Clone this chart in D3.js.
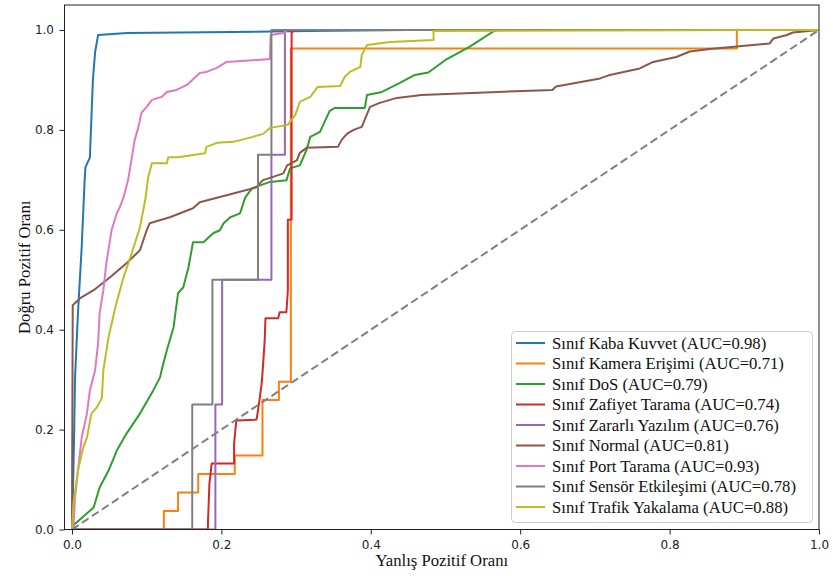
<!DOCTYPE html>
<meta charset="utf-8">
<head>
	<title>ROC</title>
</head>

<style>
	body { margin: 0; background: #fff; }
	.tick text { font-family: "DejaVu Sans", sans-serif; font-size: 12px; fill: #222; }
	.tick line { stroke: #222; }
	.domain { display: none; }
	.lbl { font-family: "Liberation Serif", "Times New Roman", serif; font-size: 16.7px; fill: #111; }
</style>

<body>
	<svg width="833" height="576"></svg>

	<script src="https://d3js.org/d3.v7.min.js"></script>
	<script>
// class names and auc scores
var classNames = ["Kaba Kuvvet", "Kamera Erişimi", "DoS", "Zafiyet Tarama", "Zararlı Yazılım",
	"Normal", "Port Tarama", "Sensör Etkileşimi", "Trafik Yakalama"];
var aucValues = [0.98, 0.71, 0.79, 0.74, 0.76, 0.81, 0.93, 0.78, 0.88];
var tickValues = [0, 0.2, 0.4, 0.6, 0.8, 1.0];

// roc points [fpr, tpr]
var rocKabaKuvvet = [[0,0],[0.001,0.05],[0.003,0.2],[0.004,0.3],[0.008,0.433],[0.013,0.565],[0.017,0.7],
	[0.018,0.725],[0.024,0.745],[0.028,0.9],[0.031,0.956],[0.035,0.99],[0.074,0.994],[0.214,0.996],
	[0.319,0.998],[0.45,1],[1,1]];
var rocKamera = [[0,0],[0.123,0],[0.123,0.037],[0.142,0.037],[0.142,0.074],[0.169,0.074],[0.169,0.111],
	[0.218,0.111],[0.218,0.148],[0.255,0.148],[0.255,0.259],[0.277,0.259],[0.277,0.296],[0.293,0.296],
	[0.293,0.963],[0.89,0.963],[0.89,1],[1,1]];
var rocDoS = [[0,0],[0.003,0.01],[0.029,0.044],[0.037,0.084],[0.049,0.118],[0.06,0.158],[0.073,0.192],
	[0.091,0.232],[0.109,0.279],[0.118,0.305],[0.12,0.319],[0.127,0.359],[0.136,0.405],[0.142,0.473],
	[0.149,0.485],[0.156,0.525],[0.162,0.575],[0.176,0.575],[0.189,0.593],[0.198,0.599],[0.203,0.613],
	[0.212,0.625],[0.225,0.633],[0.232,0.665],[0.241,0.683],[0.252,0.689],[0.263,0.695],[0.287,0.699],
	[0.292,0.723],[0.305,0.729],[0.314,0.76],[0.319,0.786],[0.332,0.796],[0.345,0.838],[0.352,0.844],
	[0.392,0.844],[0.395,0.87],[0.415,0.876],[0.439,0.894],[0.459,0.91],[0.477,0.915],[0.5,0.94],
	[0.532,0.966],[0.565,0.998],[0.57,1],[1,1]];
var rocZafiyet = [[0,0],[0.182,0],[0.182,0.012],[0.184,0.092],[0.187,0.132],[0.217,0.132],[0.217,0.172],
	[0.22,0.218],[0.247,0.22],[0.249,0.238],[0.251,0.259],[0.254,0.293],[0.256,0.333],[0.258,0.379],
	[0.259,0.423],[0.276,0.423],[0.278,0.435],[0.287,0.435],[0.289,0.479],[0.289,0.62],[0.294,0.62],
	[0.294,0.996],[0.3,1],[1,1]];
var rocZararli = [[0,0],[0.192,0],[0.192,0.25],[0.201,0.25],[0.201,0.5],[0.267,0.5],[0.267,0.75],
	[0.285,0.75],[0.285,1],[1,1]];
var rocNormal = [[0,0],[0.001,0.449],[0.011,0.463],[0.029,0.479],[0.051,0.505],[0.073,0.533],[0.091,0.559],
	[0.1,0.599],[0.104,0.613],[0.131,0.625],[0.162,0.643],[0.171,0.655],[0.207,0.669],[0.247,0.685],
	[0.255,0.699],[0.283,0.713],[0.288,0.729],[0.301,0.739],[0.305,0.754],[0.314,0.764],[0.356,0.766],
	[0.361,0.78],[0.368,0.792],[0.377,0.8],[0.388,0.806],[0.394,0.828],[0.399,0.846],[0.412,0.854],
	[0.435,0.864],[0.468,0.87],[0.643,0.88],[0.648,0.887],[0.707,0.903],[0.72,0.91],[0.76,0.923],
	[0.778,0.936],[0.809,0.946],[0.827,0.957],[0.854,0.962],[0.89,0.967],[0.934,0.973],[0.939,0.983],
	[0.957,0.99],[0.965,0.995],[1,1]];
var rocPort = [[0,0],[0.002,0.004],[0.004,0.064],[0.013,0.184],[0.02,0.232],[0.024,0.279],[0.031,0.319],
	[0.035,0.373],[0.037,0.433],[0.042,0.479],[0.046,0.533],[0.053,0.599],[0.06,0.633],[0.064,0.645],
	[0.069,0.665],[0.075,0.699],[0.078,0.725],[0.084,0.78],[0.089,0.806],[0.093,0.834],[0.1,0.846],
	[0.107,0.86],[0.12,0.866],[0.127,0.876],[0.14,0.88],[0.154,0.89],[0.171,0.914],[0.18,0.916],
	[0.194,0.924],[0.207,0.936],[0.249,0.94],[0.265,0.942],[0.266,0.99],[0.283,0.994],[0.288,1],[1,1]];
var rocSensor = [[0,0],[0.161,0],[0.161,0.25],[0.188,0.25],[0.188,0.5],[0.249,0.5],[0.249,0.75],
	[0.267,0.75],[0.267,1],[1,1]];
var rocTrafik = [[0,0],[0.002,0.052],[0.008,0.118],[0.015,0.164],[0.02,0.184],[0.026,0.232],[0.033,0.244],
	[0.04,0.263],[0.042,0.319],[0.049,0.385],[0.058,0.445],[0.069,0.505],[0.08,0.553],[0.091,0.605],
	[0.098,0.659],[0.102,0.705],[0.107,0.733],[0.127,0.733],[0.129,0.745],[0.142,0.745],[0.178,0.753],
	[0.18,0.766],[0.194,0.774],[0.216,0.776],[0.242,0.786],[0.256,0.792],[0.265,0.804],[0.289,0.81],
	[0.299,0.83],[0.305,0.856],[0.319,0.866],[0.329,0.886],[0.359,0.888],[0.365,0.906],[0.372,0.916],
	[0.386,0.926],[0.388,0.95],[0.395,0.97],[0.426,0.976],[0.484,0.98],[0.484,0.998],[1,1]];

var rocCurves = [rocKabaKuvvet, rocKamera, rocDoS, rocZafiyet, rocZararli, rocNormal, rocPort, rocSensor, rocTrafik];
var colors = d3.schemeCategory10;

var svg = d3.select('svg');
var padL = 64.5, padR = 819, padT = 5, padB = 529.5;

var x = d3.scaleLinear().domain([-0.01, 1.0]).range([padL, padR]);
var y = d3.scaleLinear().domain([0, 1.05]).range([padB, padT]);

svg.append('clipPath').attr('id', 'clip')
	.append('rect').attr('x', padL).attr('y', padT).attr('width', padR - padL).attr('height', padB - padT);

var line = d3.line()
	.x(function(d) {return x(d[0]);})
	.y(function(d) {return y(d[1]);});

var plot = svg.append('g').attr('clip-path', 'url(#clip)');

plot.selectAll('path.roc')
	.data(rocCurves)
	.enter()
	.append('path')
	.attr('class', 'roc')
	.attr('d', line)
	.attr('fill', 'none')
	.attr('stroke', function(d, i) {return colors[i];})
	.attr('stroke-width', 2)
	.attr('stroke-linejoin', 'round');

// chance line
plot.append('path')
	.attr('d', line([[0, 0], [1, 1]]))
	.attr('fill', 'none')
	.attr('stroke', 'gray')
	.attr('stroke-width', 2)
	.attr('stroke-dasharray', '8,4');

// axes
svg.append('g')
	.attr('transform', 'translate(0,' + padB + ')')
	.call(d3.axisBottom(x).tickValues(tickValues).tickFormat(d3.format('.1f')).tickSize(5).tickPadding(6));
svg.append('g')
	.attr('transform', 'translate(' + padL + ',0)')
	.call(d3.axisLeft(y).tickValues(tickValues).tickFormat(d3.format('.1f')).tickSize(5).tickPadding(5.5));

svg.append('rect')
	.attr('x', padL).attr('y', padT)
	.attr('width', padR - padL).attr('height', padB - padT)
	.attr('fill', 'none').attr('stroke', '#222').attr('stroke-width', 1);

svg.append('text').attr('class', 'lbl')
	.attr('x', (padL + padR) / 2).attr('y', 566)
	.attr('text-anchor', 'middle')
	.text('Yanlış Pozitif Oranı');
svg.append('text').attr('class', 'lbl')
	.attr('transform', 'translate(30,' + ((padT + padB) / 2) + ') rotate(-90)')
	.attr('text-anchor', 'middle')
	.text('Doğru Pozitif Oranı');

// legend
var lg = svg.append('g');
lg.append('rect')
	.attr('x', 511.5).attr('y', 331.5).attr('width', 301).attr('height', 191)
	.attr('rx', 4)
	.attr('fill', 'white').attr('fill-opacity', 0.8)
	.attr('stroke', '#ccc');

var rows = lg.selectAll('g.row')
	.data(classNames)
	.enter()
	.append('g')
	.attr('class', 'row')
	.attr('transform', function(d, i) {return 'translate(0,' + (343 + i * 20.5) + ')';});

rows.append('line')
	.attr('x1', 516).attr('x2', 545)
	.attr('stroke', function(d, i) {return colors[i];})
	.attr('stroke-width', 2);

rows.append('text').attr('class', 'lbl')
	.attr('x', 552).attr('dy', '0.33em')
	.text(function(d, i) {return 'Sınıf ' + d + ' (AUC=' + aucValues[i].toFixed(2) + ')';});
	</script>
</body>
</html>
